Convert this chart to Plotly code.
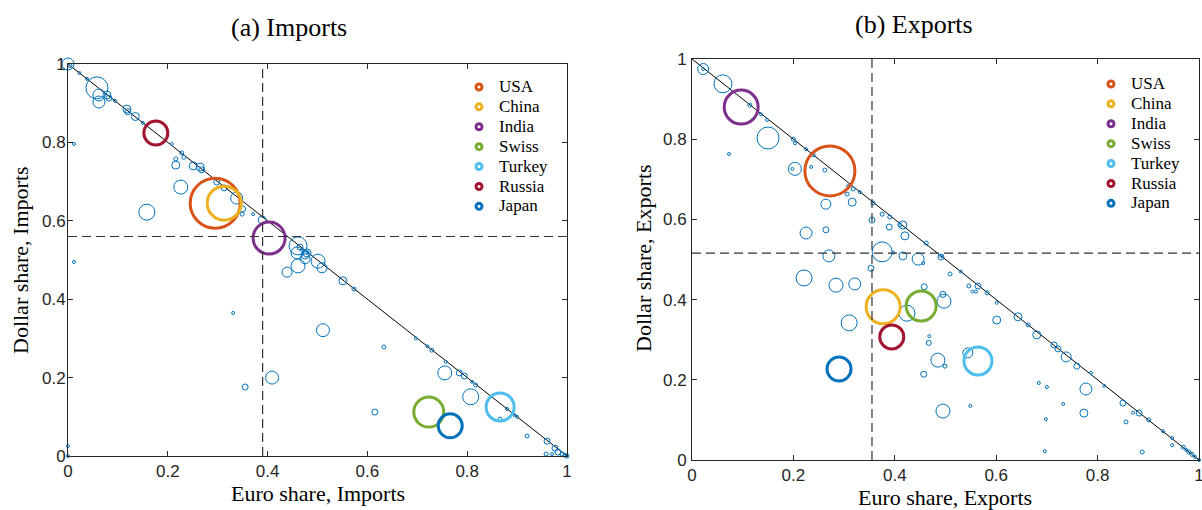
import plotly.graph_objects as go

# ---------------- data ----------------
countries = ["USA", "China", "India", "Swiss", "Turkey", "Russia", "Japan"]
country_colors = ["#D95319", "#EDB120", "#7E2F8E", "#77AC30", "#4DBEEE", "#A2142F", "#0072BD"]

# Imports: key countries (euro share, dollar share, trade weight)
imp_c_euro = [0.295, 0.313, 0.403, 0.723, 0.866, 0.176, 0.766]
imp_c_dollar = [0.645, 0.645, 0.556, 0.112, 0.125, 0.824, 0.077]
imp_c_weight = [625, 289, 256, 225, 196, 144, 144]

# Exports: key countries
exp_c_euro = [0.272, 0.377, 0.097, 0.452, 0.564, 0.394, 0.290]
exp_c_dollar = [0.721, 0.382, 0.880, 0.384, 0.247, 0.307, 0.227]
exp_c_weight = [625, 289, 289, 225, 196, 144, 144]

# Imports: other countries
imp_euro = [0.000, 0.004, 0.023, 0.038, 0.058, 0.062, 0.062, 0.078, 0.082, 0.094,
            0.118, 0.120, 0.135, 0.150, 0.208, 0.012, 0.216, 0.216, 0.228, 0.232,
            0.251, 0.265, 0.268, 0.226, 0.158, 0.298, 0.313, 0.338, 0.350, 0.349,
            0.371, 0.389, 0.012, 0.461, 0.465, 0.468, 0.479, 0.475, 0.461, 0.439,
            0.501, 0.509, 0.459, 0.475, 0.551, 0.573, 0.331, 0.511, 0.633, 0.355,
            0.409, 0.615, 0.697, 0.720, 0.729, 0.757, 0.755, 0.784, 0.794, 0.810,
            0.817, 0.807, 0.866, 0.880, 0.894, 0.900, 0.920, 0.960, 0.958, 0.970,
            0.976, 0.982, 0.990, 0.996, 1.000, 0.000, 0.000, 0.480]
imp_dollar = [1.000, 0.996, 0.977, 0.962, 0.939, 0.921, 0.903, 0.921, 0.913, 0.906,
              0.885, 0.878, 0.866, 0.850, 0.796, 0.796, 0.742, 0.758, 0.773, 0.762,
              0.740, 0.737, 0.730, 0.686, 0.622, 0.699, 0.684, 0.658, 0.630, 0.617,
              0.617, 0.602, 0.495, 0.536, 0.533, 0.526, 0.518, 0.503, 0.485, 0.469,
              0.497, 0.480, 0.518, 0.513, 0.447, 0.426, 0.365, 0.321, 0.278, 0.176,
              0.200, 0.112, 0.300, 0.280, 0.270, 0.240, 0.212, 0.212, 0.204, 0.189,
              0.181, 0.151, 0.094, 0.120, 0.105, 0.100, 0.051, 0.038, 0.005, 0.005,
              0.020, 0.010, 0.005, 0.002, 0.000, 0.025, 0.000, 0.520]
imp_weight = [36, 4, 2.25, 2.25, 121, 36, 36, 16, 9, 2.25,
              16, 9, 16, 2.25, 2.25, 2.25, 16, 4, 4, 4,
              16, 16, 9, 49, 64, 9, 9, 36, 9, 4,
              2.25, 16, 2.25, 81, 9, 2.25, 16, 25, 49, 25,
              49, 25, 36, 16, 16, 4, 2.25, 42, 4, 9,
              42, 9, 2.25, 2.25, 4, 2.25, 49, 9, 9, 2.25,
              4, 64, 4, 2.25, 2.25, 2.25, 4, 9, 4, 2.25,
              9, 9, 4, 4, 4, 2.25, 2.25, 2.25]

# Exports: other countries
exp_euro = [0.022, 0.022, 0.061, 0.114, 0.136, 0.148, 0.150, 0.073, 0.200, 0.203,
            0.225, 0.239, 0.203, 0.198, 0.235, 0.262, 0.308, 0.306, 0.318, 0.331,
            0.264, 0.316, 0.357, 0.355, 0.375, 0.390, 0.389, 0.416, 0.410, 0.420,
            0.225, 0.264, 0.270, 0.375, 0.397, 0.416, 0.446, 0.456, 0.462, 0.491,
            0.492, 0.353, 0.221, 0.284, 0.321, 0.509, 0.530, 0.546, 0.564, 0.560,
            0.553, 0.582, 0.601, 0.424, 0.497, 0.495, 0.458, 0.310, 0.467, 0.468,
            0.485, 0.499, 0.457, 0.544, 0.495, 0.549, 0.601, 0.643, 0.663, 0.680,
            0.714, 0.722, 0.738, 0.759, 0.787, 0.813, 0.684, 0.700, 0.777, 0.732,
            0.773, 0.698, 0.850, 0.856, 0.870, 0.882, 0.901, 0.929, 0.947, 0.947,
            0.969, 0.975, 0.696, 0.888, 1.000, 0.980, 0.986, 0.992]
exp_dollar = [0.975, 0.975, 0.938, 0.885, 0.862, 0.848, 0.803, 0.763, 0.800, 0.790,
              0.775, 0.761, 0.726, 0.726, 0.731, 0.723, 0.683, 0.663, 0.676, 0.668,
              0.638, 0.643, 0.641, 0.598, 0.613, 0.606, 0.581, 0.586, 0.586, 0.559,
              0.566, 0.574, 0.509, 0.519, 0.517, 0.509, 0.501, 0.491, 0.541, 0.506,
              0.508, 0.478, 0.454, 0.436, 0.439, 0.464, 0.470, 0.434, 0.434, 0.420,
              0.420, 0.417, 0.392, 0.366, 0.396, 0.413, 0.432, 0.342, 0.292, 0.309,
              0.249, 0.234, 0.214, 0.267, 0.122, 0.135, 0.349, 0.357, 0.337, 0.312,
              0.287, 0.277, 0.257, 0.234, 0.217, 0.185, 0.192, 0.182, 0.177, 0.140,
              0.117, 0.102, 0.142, 0.095, 0.118, 0.117, 0.100, 0.072, 0.055, 0.037,
              0.032, 0.025, 0.022, 0.020, 0.000, 0.020, 0.014, 0.008]
exp_weight = [30, 2.25, 81, 4, 2.25, 2.25, 121, 2.25, 4, 2.25,
              2.25, 4, 42, 2.25, 2.25, 4, 2.25, 4, 4, 2.25,
              25, 16, 4, 9, 4, 4, 9, 16, 4, 16,
              36, 9, 36, 100, 2.25, 16, 36, 2.25, 4, 9,
              2.25, 9, 64, 49, 36, 4, 2.25, 4, 9, 2.25,
              2.25, 4, 2.25, 64, 49, 9, 9, 64, 6.25, 2.25,
              49, 4, 9, 25, 49, 2.25, 16, 16, 4, 16,
              9, 9, 25, 9, 2.25, 2.25, 2.25, 2.25, 36, 2.25,
              16, 2.25, 9, 4, 2.25, 9, 4, 2.25, 2.25, 2.25,
              4, 2.25, 2.25, 4, 2.25, 4, 4, 2.25]

# Mean shares (dashed reference lines)
imp_mean_euro, imp_mean_dollar = 0.39, 0.56
exp_mean_euro, exp_mean_dollar = 0.355, 0.516

diag_x = [0, 1]
diag_y = [1, 0]
tick_vals = [0, 0.2, 0.4, 0.6, 0.8, 1]
tick_text = ["0", "0.2", "0.4", "0.6", "0.8", "1"]

# ---------------- figure ----------------
W, H = 1202, 510
SERIF = "Liberation Serif, Times New Roman, serif"
SANS = "Liberation Sans, Arial, sans-serif"
BLUE = "#0072BD"
AX = "#262626"

fig = go.Figure()

panels = [
    dict(xa="x", ya="y", leg="legend", e=imp_euro, d=imp_dollar, w=imp_weight,
         ce=imp_c_euro, cd=imp_c_dollar, cw=imp_c_weight),
    dict(xa="x2", ya="y2", leg="legend2", e=exp_euro, d=exp_dollar, w=exp_weight,
         ce=exp_c_euro, cd=exp_c_dollar, cw=exp_c_weight),
]

for p in panels:
    fig.add_trace(go.Scatter(x=diag_x, y=diag_y, mode="lines", xaxis=p["xa"], yaxis=p["ya"],
                             line=dict(color="black", width=1), showlegend=False,
                             hoverinfo="skip", cliponaxis=False))
    fig.add_trace(go.Scatter(x=p["e"], y=p["d"], mode="markers", xaxis=p["xa"], yaxis=p["ya"],
                             marker=dict(symbol="circle-open", color=BLUE, size=p["w"],
                                         sizemode="area", sizeref=0.5, opacity=1,
                                         line=dict(width=1, color=BLUE)),
                             showlegend=False, cliponaxis=False))
    for i, c in enumerate(countries):
        fig.add_trace(go.Scatter(x=[p["ce"][i]], y=[p["cd"][i]], mode="markers",
                                 xaxis=p["xa"], yaxis=p["ya"], name=c,
                                 marker=dict(symbol="circle-open", color=country_colors[i],
                                             size=[p["cw"][i]], sizemode="area", sizeref=0.5,
                                             opacity=1,
                                             line=dict(width=3, color=country_colors[i])),
                                 showlegend=False, cliponaxis=False))
    for i, c in enumerate(countries):
        fig.add_trace(go.Scatter(x=[None], y=[None], mode="markers", xaxis=p["xa"], yaxis=p["ya"],
                                 name='<span style="font-size:17px">%s</span>' % c,
                                 legend=p["leg"],
                                 marker=dict(symbol="circle-open", color=country_colors[i], size=6,
                                             opacity=1,
                                             line=dict(width=3, color=country_colors[i]))))

def px_x(v):
    return v / W

def px_y(v):
    return 1 - v / H

axis_common = dict(range=[0, 1], tickvals=tick_vals, ticktext=tick_text, ticks="inside",
                   ticklen=5, tickwidth=1, tickcolor=AX, showline=True, linecolor=AX,
                   linewidth=1, mirror="ticks", showgrid=False, zeroline=False,
                   automargin=False, ticklabeloverflow="allow",
                   tickfont=dict(family=SANS, size=17, color=AX), fixedrange=True)

fig.update_layout(
    template="none",
    width=W, height=H, margin=dict(l=0, r=0, t=0, b=0, pad=0, autoexpand=False),
    paper_bgcolor="white", plot_bgcolor="white",
    xaxis=dict(domain=[px_x(68), px_x(567)], anchor="y", **axis_common),
    yaxis=dict(domain=[px_y(456), px_y(64)], anchor="x", ticklabelstandoff=-2, **axis_common),
    xaxis2=dict(domain=[px_x(692), px_x(1199)], anchor="y2", **axis_common),
    yaxis2=dict(domain=[px_y(460), px_y(59)], anchor="x2", ticklabelstandoff=1, **axis_common),
    legend=dict(x=px_x(459), y=px_y(72), xanchor="left", yanchor="top",
                bgcolor="rgba(0,0,0,0)", font=dict(family=SERIF, size=13, color="black"),
                itemwidth=30, tracegroupgap=0),
    legend2=dict(x=px_x(1091), y=px_y(69), xanchor="left", yanchor="top",
                 bgcolor="rgba(0,0,0,0)", font=dict(family=SERIF, size=13, color="black"),
                 itemwidth=30, tracegroupgap=0),
    showlegend=True,
)

dash_style = dict(color="#333333", width=1.2, dash="9px,5px")
fig.add_shape(type="line", xref="x", yref="y", x0=imp_mean_euro, x1=imp_mean_euro, y0=0, y1=1, line=dash_style)
fig.add_shape(type="line", xref="x", yref="y", x0=0, x1=1, y0=imp_mean_dollar, y1=imp_mean_dollar, line=dash_style)
fig.add_shape(type="line", xref="x2", yref="y2", x0=exp_mean_euro, x1=exp_mean_euro, y0=0, y1=1, line=dash_style)
fig.add_shape(type="line", xref="x2", yref="y2", x0=0, x1=1, y0=exp_mean_dollar, y1=exp_mean_dollar, line=dash_style)

def ann(text, x, y, size, angle=0):
    fig.add_annotation(text=text, x=px_x(x), y=px_y(y), xref="paper", yref="paper",
                       xanchor="center", yanchor="middle", showarrow=False, textangle=angle,
                       font=dict(family=SERIF, size=size, color="black"))

ann("(a) Imports", 289, 27, 26)
ann("(b) Exports", 914, 24, 26)
ann("Euro share, Imports", 318, 493, 22)
ann("Euro share, Exports", 945, 497, 22)
ann("Dollar share, Imports", 20, 260, 22, -90)
ann("Dollar share, Exports", 643, 258, 22, -90)

# remove the default page margin so the 1202x510 figure fills the window exactly
fig.write_html("out.html", config={"displayModeBar": False},
               post_script="document.body.style.margin='0';document.body.style.overflow='hidden';")
